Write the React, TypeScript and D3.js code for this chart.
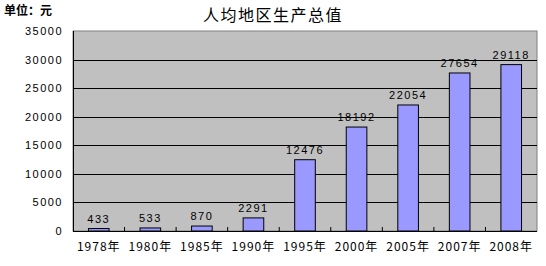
import React from "react";
import * as d3 from "d3";

const categories = ["1978年", "1980年", "1985年", "1990年", "1995年", "2000年", "2005年", "2007年", "2008年"];
const values = [433, 533, 870, 2291, 12476, 18192, 22054, 27654, 29118];
const yTicks = [0, 5000, 10000, 15000, 20000, 25000, 30000, 35000];

const W = 546, H = 266;
const L = 73, R = 537, T = 31, B = 231;

export default function App() {
  const x = d3.scaleBand<string>().domain(categories).range([L, R]).paddingInner(0.6).paddingOuter(0.3);
  const xb = d3.scaleBand<string>().domain(categories).range([L, R]);
  const y = d3.scaleLinear().domain([0, 35000]).range([B, T]);
  const font = "SimSun, 'Noto Sans CJK SC', 'DejaVu Sans', sans-serif";
  const numFont = "'Liberation Sans', Arial, sans-serif";
  return (
    <svg width={W} height={H} style={{ position: "absolute", left: 0, top: 0, background: "#fff" }}>
      <rect x={L} y={T} width={R - L} height={B - T} fill="#C0C0C0" stroke="#808080" strokeWidth={1} />
      {yTicks.slice(1, -1).map((t) => (
        <line key={t} x1={L} x2={R} y1={Math.round(y(t)) + 0.5} y2={Math.round(y(t)) + 0.5} stroke="#000" />
      ))}
      {categories.map((c, i) => (
        <rect key={c} x={x(c)!} y={y(values[i])} width={x.bandwidth()} height={B - y(values[i])} fill="#9999FF" stroke="#000" strokeWidth={1} />
      ))}
      <line x1={L + 0.5} x2={L + 0.5} y1={T} y2={B} stroke="#000" />
      <line x1={L} x2={R} y1={B + 0.5} y2={B + 0.5} stroke="#000" />
      {categories.slice(1).map((c) => (
        <line key={c} x1={xb(c)!} x2={xb(c)!} y1={B} y2={B - 4} stroke="#000" />
      ))}
      {yTicks.map((t) => (
        <text key={t} x={63} y={y(t) + 4} textAnchor="end" fontSize={11} letterSpacing={1.5} fontFamily={numFont}>{t}</text>
      ))}
      {categories.map((c, i) => (
        <text key={c} x={xb(c)! + xb.bandwidth() / 2} y={251} textAnchor="middle" fontSize={12} letterSpacing={1} fontFamily={font}>{c}</text>
      ))}
      {categories.map((c, i) => (
        <text key={c} x={x(c)! + x.bandwidth() / 2} y={y(values[i]) - 6} textAnchor="middle" fontSize={11} letterSpacing={1.5} fontFamily={numFont}>{values[i]}</text>
      ))}
      <text x={273} y={21} textAnchor="middle" fontSize={16} letterSpacing={1.5} fontFamily={font}>人均地区生产总值</text>
      <text x={4} y={15} fontSize={12} fontWeight="bold" fontFamily={font}>单位：元</text>
    </svg>
  );
}
